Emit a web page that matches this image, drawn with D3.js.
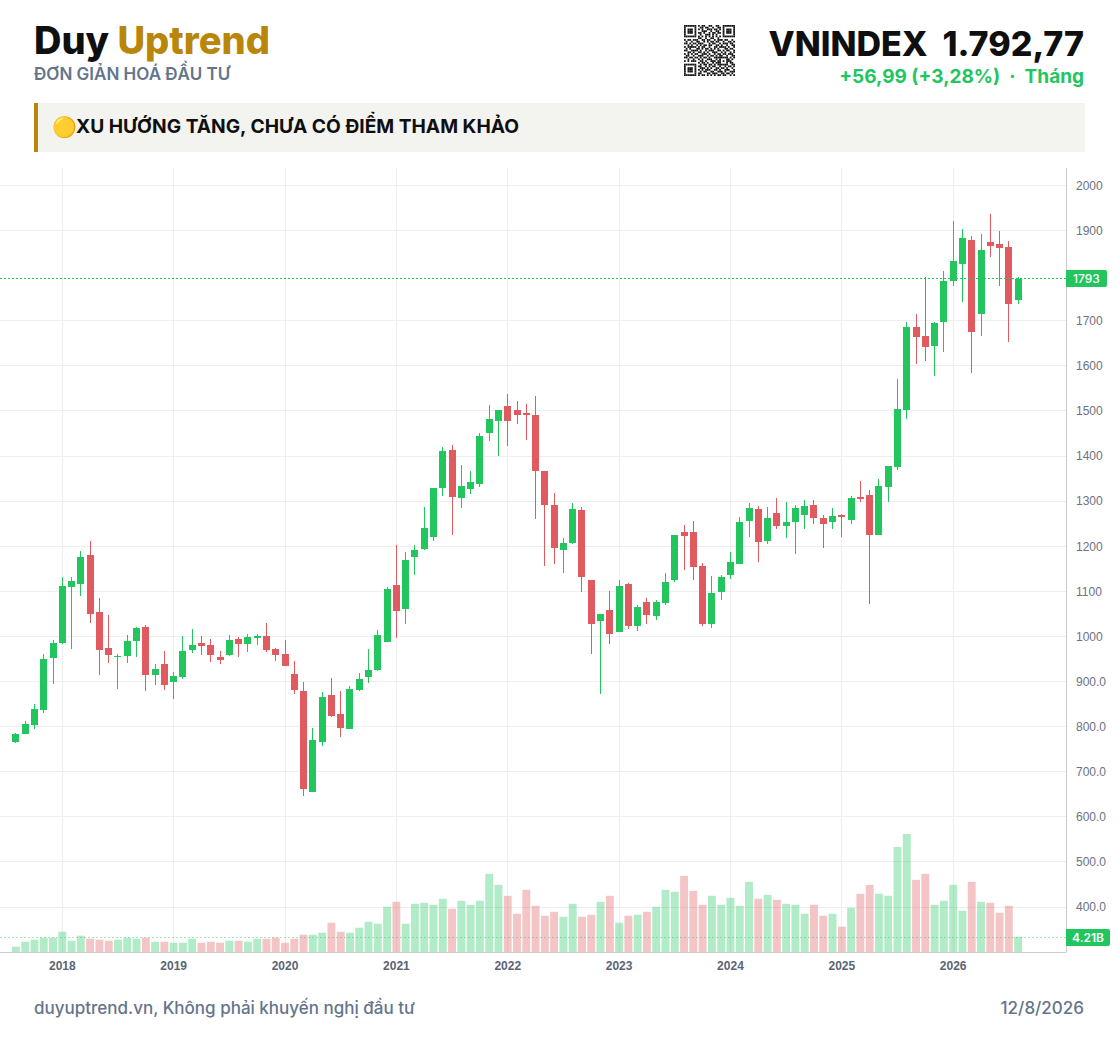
<!DOCTYPE html>
<html>
<head>
<meta charset="utf-8">
<script src="https://cdn.jsdelivr.net/npm/d3@7"></script>
<style>
  html, body { margin: 0; padding: 0; background: #fff; }
  svg { display: block; font-family: Inter, "Noto Sans", sans-serif; }
  .yaxis text { font-size: 12px; font-weight: 500; fill: #6b7280; }
  .xaxis text { font-size: 12px; font-weight: 600; fill: #5b6475; }
</style>
</head>
<body>
<svg id="chart" width="1118" height="1063"></svg>
<script>
// monthly candles, Aug 2017 .. Aug 2026
var startYear = 2017, startMonth = 8;
var opens = [765,783,803,836,952,985,1110,1116,1181,1054,974,954,956,990,1021,914,939,898,910,970,985,981,954,958,994,983,996,1001,972,961,916,878,656,765,870,827,794,881,910,925,987,1114,1061,1176,1194,1221,1330,1414,1307,1327,1338,1450,1478,1510,1501,1496,1492,1367,1292,1192,1207,1281,1125,1034,1058,1010,1116,1023,1076,1045,1074,1125,1232,1232,1156,1027,1098,1136,1161,1256,1283,1212,1274,1245,1254,1270,1292,1263,1254,1270,1258,1310,1314,1225,1332,1376,1503,1685,1667,1645,1698,1787,1825,1878,1714,1874,1870,1863,1745];
var highs = [785,812,850,961,992,1132,1132,1190,1212,1085,1047,961,1003,1021,1025,939,967,921,1000,1016,1000,994,967,1003,998,1005,1005,1030,974,992,945,898,798,876,907,878,890,918,972,1014,1110,1203,1187,1203,1287,1330,1421,1425,1381,1367,1450,1514,1501,1538,1523,1516,1534,1367,1318,1218,1296,1287,1125,1050,1101,1125,1118,1070,1085,1081,1141,1225,1247,1256,1163,1134,1136,1187,1265,1296,1290,1287,1307,1298,1292,1303,1303,1270,1285,1272,1312,1345,1325,1350,1378,1570,1698,1714,1796,1698,1810,1921,1903,1887,1892,1936,1898,1876,1796];
var lows = [763,783,794,830,894,983,972,1090,1030,914,941,883,941,954,879,892,881,861,905,963,958,943,938,956,954,965,981,965,945,934,872,647,656,758,821,778,794,878,896,923,987,996,1027,1136,1192,1212,1312,1225,1285,1316,1332,1434,1401,1423,1470,1436,1261,1156,1161,1141,1205,1098,961,872,983,1010,1016,1012,1027,1036,1070,1121,1147,1125,1023,1018,1081,1127,1161,1221,1165,1205,1238,1218,1183,1238,1250,1196,1238,1221,1250,1298,1072,1225,1298,1370,1481,1605,1610,1578,1630,1776,1741,1583,1665,1841,1776,1652,1738];
var closes = [783,805,838,950,985,1112,1123,1176,1050,970,958,956,990,1018,914,927,892,912,967,981,978,958,947,992,983,998,1001,970,958,934,881,661,770,865,823,796,883,905,925,1003,1105,1056,1170,1192,1241,1330,1410,1310,1334,1343,1445,1481,1501,1478,1490,1492,1367,1292,1196,1207,1283,1132,1027,1050,1005,1112,1023,1065,1047,1076,1121,1225,1223,1154,1027,1096,1132,1165,1254,1285,1210,1263,1245,1254,1285,1290,1263,1250,1267,1265,1307,1305,1225,1334,1378,1505,1685,1663,1641,1694,1787,1832,1883,1674,1856,1865,1861,1736,1793];
// volume, billions of shares
var volumes = [1.46,2.84,3.39,3.94,3.94,5.58,3.11,4.48,3.66,3.39,3.11,3.39,3.94,3.66,3.94,2.84,2.84,2.56,2.56,3.66,2.56,2.84,2.56,3.11,3.11,2.84,3.66,3.66,3.94,2.56,3.66,4.76,4.76,5.31,8.05,5.58,5.31,6.68,8.33,7.78,12.45,13.82,7.78,13.27,13.55,13.0,14.64,11.9,14.1,13.0,14.1,21.51,18.49,15.47,10.53,17.11,12.72,9.98,11.07,9.70,13.27,9.70,10.25,13.82,15.47,8.05,9.98,10.25,11.07,12.45,17.11,16.57,20.96,16.84,13.0,15.47,13.0,14.92,12.72,19.31,14.64,15.74,14.37,13.27,13.0,10.53,13.0,9.98,10.53,6.96,12.17,16.02,18.49,16.02,15.47,28.92,32.49,19.86,21.51,13.0,14.1,18.49,11.35,19.31,13.82,13.55,10.8,12.72,4.21];

// 1800 is hidden behind the last price tag in the source
var priceTicks = [2000,1900,1700,1600,1500,1400,1300,1200,1100,1000,900,800,700,600,500,400];
var lastPrice = 1793, lastVolume = 4.21;

var brandA = "Duy", brandB = "Uptrend", tagline = "ĐƠN GIẢN HOÁ ĐẦU TƯ";
var symbolText = "VNINDEX\u00a0\u00a01.792,77", changeText = "+56,99 (+3,28%)\u00a0\u00a0·\u00a0\u00a0Tháng";
var bannerIcon = "🟡", bannerText = "XU HƯỚNG TĂNG, CHƯA CÓ ĐIỂM THAM KHẢO";
var footLeft = "duyuptrend.vn, Không phải khuyến nghị đầu tư", footRight = "12/8/2026";

var qrRows = [
"11111110101100110011001111111",
"10000010011011001001101000001",
"10111010101001110110101011101",
"10111010001110010011001011101",
"10111010110100101101101011101",
"10000010010011101010001000001",
"11111110101010101010101111111",
"00000000110010011001000000000",
"10110111001101100101110110010",
"01001001100101011011001001101",
"11010110111000101100101110110",
"00101001010110110011010010011",
"10111110101100100110111101001",
"01010001101011010101000110110",
"11001111010010111001101011001",
"00110100110101001110010100101",
"10101011001110100101101101110",
"01100100111001011010110010011",
"11011011010110100111111110101",
"00100100101001110010100011010",
"10101110011010011101101011100",
"00000000101101001011100010110",
"11111110010110110101111110011",
"10000010110010101100100101101",
"10111010011101010011011010010",
"10111010101011100110100111001",
"10111010010110011001110100111",
"10000010110001101110011011010",
"11111110101101010101101100101"];

var green = "#22c55e", red = "#e05a5f", gold = "#b8860b", ink = "#0f0f0f", slate = "#64748b", gridColor = "#eeeeee";

var svg = d3.select("#chart");

// header
var brand = svg.append("text").attr("x", 34).attr("y", 54)
  .style("font-size", "38px").style("font-weight", 800);
brand.append("tspan").attr("fill", ink).text(brandA + " ");
brand.append("tspan").attr("fill", gold).text(brandB);
svg.append("text").attr("x", 34).attr("y", 80).attr("fill", slate)
  .style("font-size", "17px").style("font-weight", 600).text(tagline);

svg.append("text").attr("x", 1084).attr("y", 56).attr("text-anchor", "end").attr("fill", ink)
  .style("font-size", "34px").style("font-weight", 800).text(symbolText);
svg.append("text").attr("x", 1084).attr("y", 83).attr("text-anchor", "end").attr("fill", green)
  .style("font-size", "19px").style("font-weight", 700).text(changeText);

// qr
var qrScale = d3.scaleBand().domain(d3.range(qrRows.length)).range([0, 51]);
var qr = svg.append("g").attr("transform", "translate(684,25)");
qrRows.forEach(function (row, r) {
  row.split("").forEach(function (c, k) {
    if (c == "1") qr.append("rect").attr("x", qrScale(k)).attr("y", qrScale(r))
      .attr("width", qrScale.bandwidth()).attr("height", qrScale.bandwidth()).attr("fill", "#111");
  });
});

// banner
svg.append("rect").attr("x", 34).attr("y", 103).attr("width", 1051).attr("height", 49).attr("fill", "#f3f3ef");
svg.append("rect").attr("x", 34).attr("y", 103).attr("width", 4).attr("height", 49).attr("fill", gold);
svg.append("text").attr("x", 52).attr("y", 134).style("font-size", "20px").text(bannerIcon);
svg.append("text").attr("x", 76).attr("y", 133).attr("fill", ink)
  .style("font-size", "19.2px").style("font-weight", 700).text(bannerText);

// scales
var plotRight = 1066, plotTop = 168, plotBottom = 952;
var x = d3.scaleLinear().domain([0, opens.length - 1]).range([15.4, 1017.64]);
var y = d3.scaleLinear().domain([2000, 400]).range([185.4, 907]);
var v = d3.scaleLinear().domain([0, d3.max(volumes)]).range([plotBottom, 834]);
var col = function (i) { return Math.round(x(i)); };
var py = function (d) { return Math.round(y(d)); };

var yearTicks = d3.range(opens.length).filter(function (i) { return (startMonth - 1 + i) % 12 == 0; });
var yearOf = function (i) { return startYear + Math.floor((startMonth - 1 + i) / 12); };

// grid
svg.append("g").selectAll("line").data(priceTicks).join("line")
  .attr("x1", 0).attr("x2", plotRight)
  .attr("y1", function (d) { return Math.floor(y(d)) + 0.5; })
  .attr("y2", function (d) { return Math.floor(y(d)) + 0.5; })
  .attr("stroke", gridColor);
svg.append("g").selectAll("line").data(yearTicks).join("line")
  .attr("x1", function (d) { return col(d) + 0.5; }).attr("x2", function (d) { return col(d) + 0.5; })
  .attr("y1", plotTop).attr("y2", plotBottom)
  .attr("stroke", gridColor);

var isUp = function (i) { return closes[i] >= opens[i]; };
var idx = d3.range(opens.length);

// volume
svg.append("g").selectAll("rect").data(idx).join("rect")
  .attr("x", function (i) { return x(i) + 0.5 - 3.95; })
  .attr("width", 7.9)
  .attr("y", function (i) { return v(volumes[i]); })
  .attr("height", function (i) { return plotBottom - v(volumes[i]); })
  .attr("fill", function (i) { return isUp(i) ? green : red; })
  .attr("opacity", 0.35);

// candles
var candles = svg.append("g").selectAll("g").data(idx).join("g")
  .attr("fill", function (i) { return isUp(i) ? green : red; });
candles.append("rect")
  .attr("x", col)
  .attr("width", 1)
  .attr("y", function (i) { return py(highs[i]); })
  .attr("height", function (i) { return py(lows[i]) - py(highs[i]); });
candles.append("rect")
  .attr("x", function (i) { return col(i) - 3; })
  .attr("width", 7)
  .attr("y", function (i) { return py(Math.max(opens[i], closes[i])); })
  .attr("height", function (i) { return Math.max(1, Math.abs(py(opens[i]) - py(closes[i]))); });

// last value lines
var priceLineY = Math.floor(y(lastPrice)) + 0.5, volLineY = Math.round(v(lastVolume)) + 0.5;
svg.append("line").attr("x1", 0).attr("x2", plotRight)
  .attr("y1", priceLineY).attr("y2", priceLineY)
  .attr("stroke", green).attr("stroke-dasharray", "2,2");
svg.append("line").attr("x1", 0).attr("x2", plotRight)
  .attr("y1", volLineY).attr("y2", volLineY)
  .attr("stroke", green).attr("stroke-opacity", 0.4).attr("stroke-dasharray", "2,2");

// axes
var yAxis = d3.axisRight(y).tickValues(priceTicks).tickSize(0).tickPadding(10)
  .tickFormat(function (d) { return d >= 1000 ? d3.format("d")(d) : d3.format(".1f")(d); });
svg.append("g").attr("class", "yaxis").attr("transform", "translate(" + plotRight + ",0)").call(yAxis)
  .call(function (g) { g.select(".domain").remove(); });
var xAxis = d3.axisBottom(x).tickValues(yearTicks).tickSize(0).tickPadding(9).tickFormat(yearOf);
svg.append("g").attr("class", "xaxis").attr("transform", "translate(0," + plotBottom + ")").call(xAxis)
  .call(function (g) { g.select(".domain").remove(); });

svg.append("line").attr("x1", plotRight + 0.5).attr("x2", plotRight + 0.5).attr("y1", plotTop).attr("y2", plotBottom + 0.5).attr("stroke", "#cccccc");
svg.append("line").attr("x1", 0).attr("x2", plotRight).attr("y1", plotBottom + 0.5).attr("y2", plotBottom + 0.5).attr("stroke", "#cccccc");

// last value tags
function tag(cy, w, label, weight) {
  svg.append("path")
    .attr("d", "M" + plotRight + "," + (cy - 8.5) + "h" + (w - 2) + "q2,0 2,2v13q0,2 -2,2h-" + (w - 2) + "z")
    .attr("fill", green);
  svg.append("text").attr("x", plotRight + w / 2).attr("y", cy + 4.5).attr("text-anchor", "middle").attr("fill", "#fff")
    .style("font-size", "12px").style("font-weight", weight).text(label);
}
tag(priceLineY, 41, d3.format("d")(lastPrice), 500);
tag(volLineY, 44, lastVolume + "B", 600);

// footer
svg.append("text").attr("x", 34).attr("y", 1014).attr("fill", slate).style("font-size", "17px").style("font-weight", 500).text(footLeft);
svg.append("text").attr("x", 1084).attr("y", 1014).attr("text-anchor", "end").attr("fill", slate).style("font-size", "17px").style("font-weight", 500).text(footRight);
</script>
</body>
</html>
